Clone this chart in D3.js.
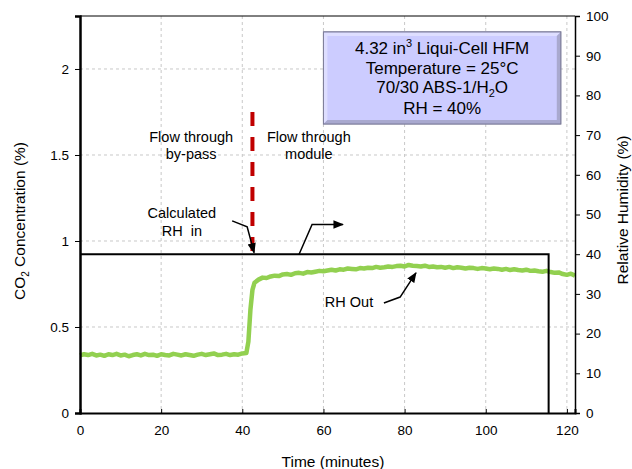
<!DOCTYPE html>
<html>
<head>
<meta charset="utf-8">
<script src="https://cdn.jsdelivr.net/npm/d3@7"></script>
<style>
  html, body { margin: 0; padding: 0; background: #fff; }
  svg { display: block; font-family: "Liberation Sans", Arial, sans-serif; }
</style>
</head>
<body>
<svg id="chart" width="632" height="469"></svg>
<script>
// Axis ticks
const timeTicks = [0, 20, 40, 60, 80, 100, 120];
const co2Ticks = [0, 0.5, 1, 1.5, 2];
const rhTicks = [0, 10, 20, 30, 40, 50, 60, 70, 80, 90, 100];

// RH out (%) versus time (minutes)
const rhOutTime = [
  0,1,2,3,4,5,6,7,8,9,10,11,12,13,14,15,16,17,18,19,20,21,22,23,24,25,26,27,28,29,30,
  31,32,33,34,35,36,37,38,39,40,41,41.5,42,42.5,43,44,45,46,47,48,49,50,51,52,53,54,55,
  56,57,58,59,60,61,62,63,64,65,66,67,68,69,70,71,72,73,74,75,76,77,78,79,80,81,82,83,
  84,85,86,87,88,89,90,91,92,93,94,95,96,97,98,99,100,101,102,103,104,105,106,107,108,
  109,110,111,112,113,114,115,116,117,118,119,120,121,122
];
const rhOut = [
  14.5,14.8,14.6,14.9,14.5,14.7,14.4,14.8,14.6,14.9,14.5,14.7,14.3,14.6,14.8,14.5,14.9,
  14.6,14.7,14.4,14.8,14.6,14.5,14.9,14.7,14.5,14.8,14.6,14.4,14.7,14.9,14.6,14.8,15.0,
  14.6,14.7,14.9,14.6,14.8,14.7,15.0,15.1,18.0,26.0,31.0,32.8,33.6,34.1,34.0,34.4,34.6,
  34.5,34.9,35.0,34.8,35.2,35.3,35.1,35.5,35.4,35.6,35.8,35.7,35.9,36.1,35.9,36.2,36.1,
  36.4,36.3,36.2,36.5,36.4,36.6,36.5,36.8,36.6,36.7,36.9,36.8,37.0,37.1,36.9,37.3,37.1,
  37.0,36.9,37.1,36.8,36.9,36.7,36.8,36.6,36.8,36.5,36.7,36.6,36.4,36.6,36.5,36.3,36.5,
  36.4,36.2,36.4,36.3,36.1,36.3,36.0,36.2,36.0,35.9,36.1,35.8,35.9,35.7,35.6,35.8,35.5,
  35.3,35.4,35.0,34.8,35.1,34.6
];

// Calculated RH in (%) versus time (minutes)
const rhInTime = [0, 115.5, 115.5];
const rhIn = [40, 40, 0];

// Switch from by-pass to module (time, CO2 span)
const switchTime = 42.5;
const switchCo2 = [0.92, 1.75];

// Annotation texts
const boxLines = ["4.32 in³ Liqui-Cell HFM", "Temperature = 25°C", "70/30 ABS-1/H₂O", "RH = 40%"];

const svg = d3.select("#chart");
const pLeft = 80, pRight = 575, pTop = 16, pBottom = 413;

const x = d3.scaleLinear().domain([0, 122]).range([pLeft, pRight]);
const yL = d3.scaleLinear().domain([0, 2.308]).range([pBottom, pTop]);
const yR = d3.scaleLinear().domain([0, 100]).range([pBottom, pTop]);

// Grid
const grid = svg.append("g").attr("stroke", "#c8c8c8").attr("stroke-width", 1).attr("stroke-dasharray", "3,3");
timeTicks.filter(d => d > 0).forEach(d => {
  grid.append("line").attr("x1", x(d)).attr("x2", x(d)).attr("y1", pTop).attr("y2", pBottom);
});
co2Ticks.filter(d => d > 0).forEach(d => {
  grid.append("line").attr("x1", pLeft).attr("x2", pRight).attr("y1", yL(d)).attr("y2", yL(d));
});

// Info box
const bx0 = x(60), bx1 = x(118.5), by0 = yR(96), by1 = yR(72.8);
const defs = svg.append("defs");
const box = svg.append("g");
box.append("rect").attr("x", bx0).attr("y", by0).attr("width", bx1 - bx0).attr("height", by1 - by0)
  .attr("fill", "#ccccff").attr("stroke", "#8a8aa8").attr("stroke-width", 1);
// bevel edges
box.append("path").attr("d", `M${bx0+0.5},${by0+0.5}H${bx1-0.5}L${bx1-4},${by0+4}H${bx0+4}V${by1-4}L${bx0+0.5},${by1-0.5}Z`)
  .attr("fill", "#dedeff");
box.append("path").attr("d", `M${bx1-0.5},${by1-0.5}H${bx0+0.5}L${bx0+4},${by1-4}H${bx1-4}V${by0+4}L${bx1-0.5},${by0+0.5}Z`)
  .attr("fill", "#a9a9cf");
box.append("rect").attr("x", bx0).attr("y", by0).attr("width", bx1 - bx0).attr("height", by1 - by0)
  .attr("fill", "none").attr("stroke", "#7f7f9a").attr("stroke-width", 1);
const bcx = (bx0 + bx1) / 2;
const bt = box.append("g").attr("font-size", 17).attr("text-anchor", "middle").attr("fill", "#000");
const t1 = bt.append("text").attr("x", bcx).attr("y", by0 + 22);
t1.append("tspan").text("4.32 in");
t1.append("tspan").attr("font-size", 11).attr("dy", -7).text("3");
t1.append("tspan").attr("dy", 7).text(" Liqui-Cell HFM");
bt.append("text").attr("x", bcx).attr("y", by0 + 42).text(boxLines[1]);
const t3 = bt.append("text").attr("x", bcx).attr("y", by0 + 61.5);
t3.append("tspan").text("70/30 ABS-1/H");
t3.append("tspan").attr("font-size", 11).attr("dy", 4).text("2");
t3.append("tspan").attr("dy", -4).text("O");
bt.append("text").attr("x", bcx).attr("y", by0 + 82).text(boxLines[3]);

// RH out series
const rhOutData = rhOutTime.map((t, i) => [t, rhOut[i]]);
svg.append("path").datum(rhOutData)
  .attr("fill", "none").attr("stroke", "#92d050").attr("stroke-width", 4.5)
  .attr("stroke-linejoin", "round")
  .attr("d", d3.line().x(d => x(d[0])).y(d => yR(d[1])));

// Calculated RH in series
const rhInData = rhInTime.map((t, i) => [t, rhIn[i]]);
svg.append("path").datum(rhInData)
  .attr("fill", "none").attr("stroke", "#000").attr("stroke-width", 2)
  .attr("d", d3.line().x(d => x(d[0])).y(d => yR(d[1])));

// Switch marker
svg.append("line")
  .attr("x1", x(switchTime)).attr("x2", x(switchTime))
  .attr("y1", yL(switchCo2[1])).attr("y2", yL(switchCo2[0]))
  .attr("stroke", "#c00000").attr("stroke-width", 4).attr("stroke-dasharray", "14,11");

// Frame
svg.append("line").attr("x1", pLeft).attr("x2", pRight).attr("y1", pTop).attr("y2", pTop).attr("stroke", "#000").attr("stroke-width", 1);

// Axes
const axB = svg.append("g").attr("transform", `translate(0,${pBottom})`)
  .call(d3.axisBottom(x).tickValues(timeTicks).tickSize(-4).tickPadding(12).tickFormat(d3.format("d")));
const axL = svg.append("g").attr("transform", `translate(${pLeft},0)`)
  .call(d3.axisLeft(yL).tickValues(co2Ticks).tickSize(5).tickPadding(6).tickFormat(d => d));
const axR = svg.append("g").attr("transform", `translate(${pRight},0)`)
  .call(d3.axisRight(yR).tickValues(rhTicks).tickSize(5).tickPadding(6).tickFormat(d3.format("d")));
[axB, axL, axR].forEach(a => {
  a.selectAll("text").attr("font-size", 13.5).attr("fill", "#000").attr("font-family", "Liberation Sans, Arial, sans-serif");
  a.selectAll("line").attr("stroke", "#000");
  a.select(".domain").attr("stroke", "#000");
});
axB.select(".domain").attr("stroke-width", 2);
axL.select(".domain").attr("stroke-width", 2.5);
axR.select(".domain").attr("stroke-width", 1.5);

// Axis titles
svg.append("text").attr("x", 333).attr("y", 467).attr("text-anchor", "middle")
  .attr("font-size", 15.5).text("Time (minutes)");
const yt = svg.append("text").attr("transform", `translate(25,221) rotate(-90)`).attr("text-anchor", "middle").attr("font-size", 15.5);
yt.append("tspan").text("CO");
yt.append("tspan").attr("font-size", 10).attr("dy", 4).text("2");
yt.append("tspan").attr("dy", -4).text(" Concentration (%)");
svg.append("text").attr("transform", `translate(628,210) rotate(-90)`).attr("text-anchor", "middle")
  .attr("font-size", 15.5).text("Relative Humidity (%)");

// Annotations
defs.append("marker").attr("id", "ah").attr("viewBox", "0 0 10 10").attr("refX", 9).attr("refY", 5)
  .attr("markerWidth", 7).attr("markerHeight", 7).attr("orient", "auto")
  .append("path").attr("d", "M0,1L10,5L0,9Z").attr("fill", "#000");

const ann = svg.append("g").attr("font-size", 14.5).attr("text-anchor", "middle").attr("fill", "#000");
function label(t, v, lines) {
  lines.forEach((s, i) => {
    ann.append("text").attr("x", x(t)).attr("y", yR(v) + i * 17.5).attr("xml:space", "preserve").text(s);
  });
}
label(27.4, 68.3, ["Flow through", "by-pass"]);
label(56.4, 68.3, ["Flow through", "module"]);
label(25.1, 49.1, ["Calculated", "RH  in"]);
label(66.3, 26.6, ["RH Out"]);

const arrowLine = d3.line().x(d => x(d[0])).y(d => yR(d[1]));
const arrows = [
  [[37.5, 48.4], [41.2, 46.9], [42.9, 40.4]],
  [[54.0, 40.0], [57.2, 47.5], [64.8, 47.5]],
  [[74.9, 27.7], [78.9, 29.2], [82.8, 35.3]]
];
arrows.forEach(a => {
  svg.append("path").attr("d", arrowLine(a)).attr("fill", "none").attr("stroke", "#000")
    .attr("stroke-width", 1.5).attr("marker-end", "url(#ah)");
});
</script>
</body>
</html>
